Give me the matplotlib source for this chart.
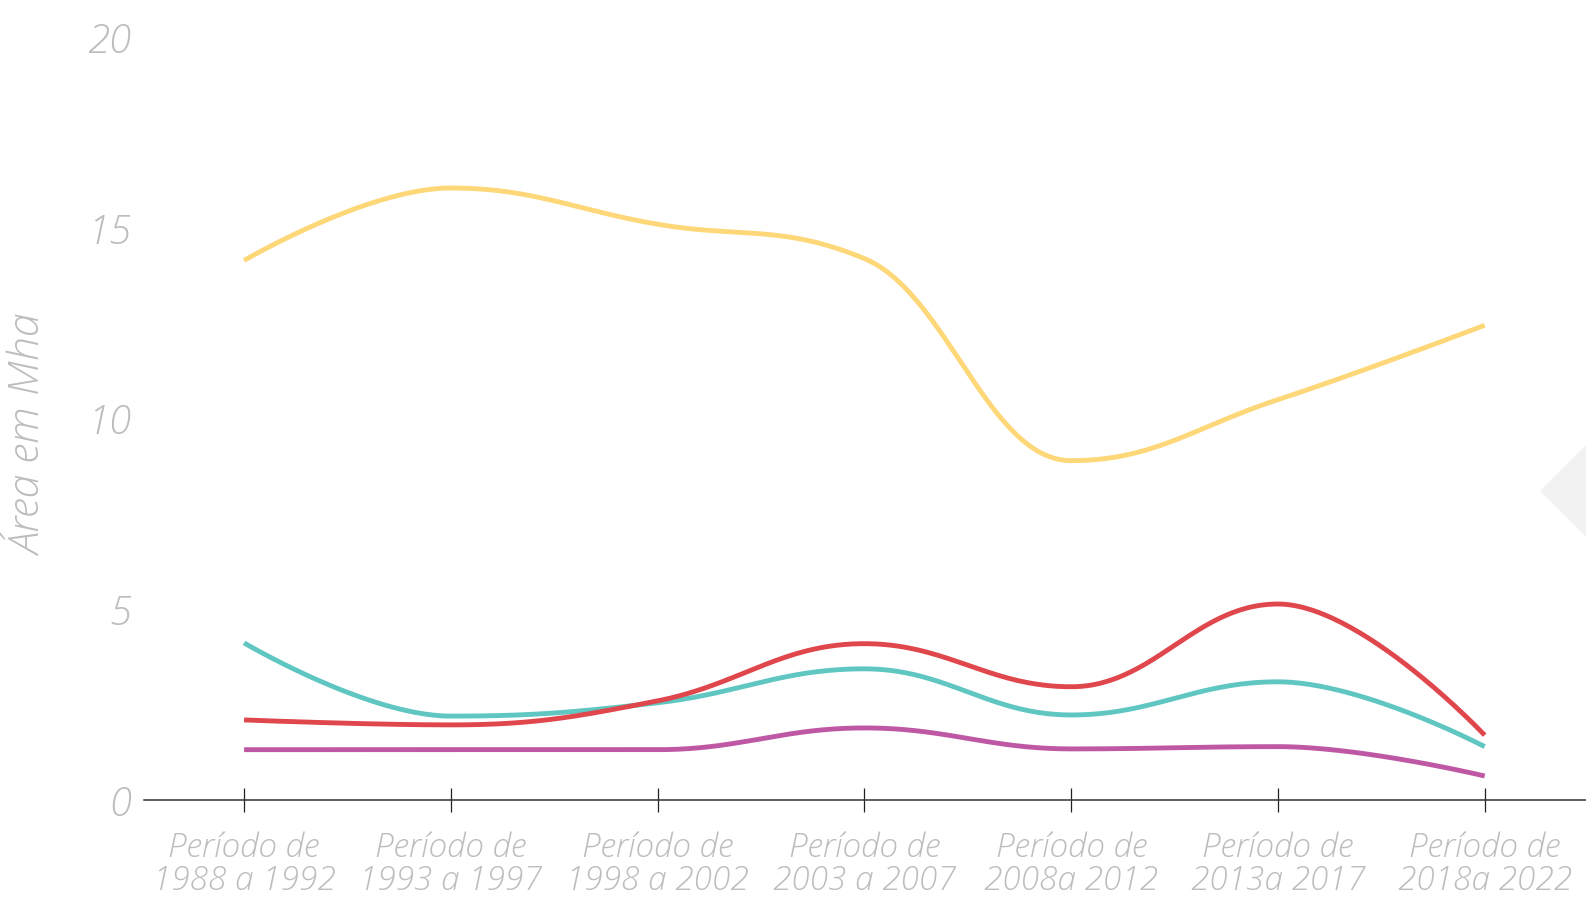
import matplotlib.pyplot as plt
import numpy as np
from matplotlib.patches import Polygon

# periods on the x axis
periods = [
    "Período de\n1988 a 1992",
    "Período de\n1993 a 1997",
    "Período de\n1998 a 2002",
    "Período de\n2003 a 2007",
    "Período de\n2008a 2012",
    "Período de\n2013a 2017",
    "Período de\n2018a 2022",
]

# area per period (Mha)
yellow_vals = [14.15, 16.05, 15.1, 14.2, 8.9, 10.5, 12.45]
teal_vals = [4.12, 2.2, 2.55, 3.44, 2.23, 3.1, 1.4]
red_vals = [2.1, 1.97, 2.6, 4.1, 2.97, 5.14, 1.7]
purple_vals = [1.32, 1.32, 1.32, 1.89, 1.34, 1.4, 0.63]

y_ticks = [0, 5, 10, 15, 20]

FONT = ["Open Sans", "DejaVu Sans"]
GREY = "#bdbdbd"


def spline(xs, ys, smoothing=1.5, n=60):
    """Bezier spline through the points, Highcharts style."""
    xs = np.asarray(xs, float)
    ys = np.asarray(ys, float)
    m = len(xs)
    lc = [(x, y) for x, y in zip(xs, ys)]
    rc = [(x, y) for x, y in zip(xs, ys)]
    den = smoothing + 1
    for i in range(1, m - 1):
        px, py = xs[i], ys[i]
        lx = (smoothing * px + xs[i - 1]) / den
        ly = (smoothing * py + ys[i - 1]) / den
        rx = (smoothing * px + xs[i + 1]) / den
        ry = (smoothing * py + ys[i + 1]) / den
        corr = (ry - ly) * (rx - px) / (rx - lx) + py - ry
        ly += corr
        ry += corr
        if ly > ys[i - 1] and ly > py:
            ly = max(ys[i - 1], py)
            ry = 2 * py - ly
        elif ly < ys[i - 1] and ly < py:
            ly = min(ys[i - 1], py)
            ry = 2 * py - ly
        if ry > ys[i + 1] and ry > py:
            ry = max(ys[i + 1], py)
            ly = 2 * py - ry
        elif ry < ys[i + 1] and ry < py:
            ry = min(ys[i + 1], py)
            ly = 2 * py - ry
        lc[i] = (lx, ly)
        rc[i] = (rx, ry)
    t = np.linspace(0, 1, n)[:, None]
    out = []
    for i in range(1, m):
        p0 = np.array([xs[i - 1], ys[i - 1]])
        p1 = np.array(rc[i - 1])
        p2 = np.array(lc[i])
        p3 = np.array([xs[i], ys[i]])
        seg = ((1 - t) ** 3) * p0 + 3 * ((1 - t) ** 2) * t * p1 \
            + 3 * (1 - t) * t ** 2 * p2 + t ** 3 * p3
        out.append(seg if i == 1 else seg[1:])
    out = np.vstack(out)
    return out[:, 0], out[:, 1]


W, H = 1586, 897
fig = plt.figure(figsize=(W / 100, H / 100), dpi=100)
ax = fig.add_axes([144 / W, (H - 800) / H, 1 - 144 / W, (800 - 37.4) / H])

x = np.arange(len(periods))
series = [
    (yellow_vals, "#fdd778"),
    (teal_vals, "#5fc6c1"),
    (red_vals, "#e0474c"),
    (purple_vals, "#bf58a4"),
]
for vals, color in series:
    sx, sy = spline(x, vals)
    ax.plot(sx, sy, color=color, lw=3.5, solid_capstyle="butt", zorder=3)

ax.set_xlim(-0.484, 6.49)
ax.set_ylim(0, 20)
ax.set_xticks(x)
ax.set_xticklabels(periods, fontsize=24, color=GREY, style="italic",
                   family=FONT, fontweight="light", linespacing=1.0)
ax.set_yticks(y_ticks)
ax.set_yticklabels([str(v) for v in y_ticks], fontsize=29, color=GREY,
                   style="italic", family=FONT, fontweight="light")

for side in ["top", "right", "left"]:
    ax.spines[side].set_visible(False)
ax.spines["bottom"].set_color("#333333")
ax.spines["bottom"].set_linewidth(1.1)
ax.tick_params(axis="x", direction="inout", length=17, width=0.9,
               color="#222222", pad=14)
ax.tick_params(axis="y", length=0, pad=9)

fig.text(30 / W, 1 - 435 / H, "Área em Mha", rotation=90, ha="center",
         va="center", fontsize=31, color=GREY, style="italic",
         family=FONT, fontweight="light")

# pale arrow shape at the right edge
tri = Polygon([(1540 / W, 1 - 491 / H), (1.0, 1 - 445 / H), (1.0, 1 - 537 / H)],
              closed=True, transform=fig.transFigure, facecolor="#f2f2f2",
              edgecolor="none", zorder=0)
fig.patches.append(tri)

fig.savefig("out.png", dpi=100)
